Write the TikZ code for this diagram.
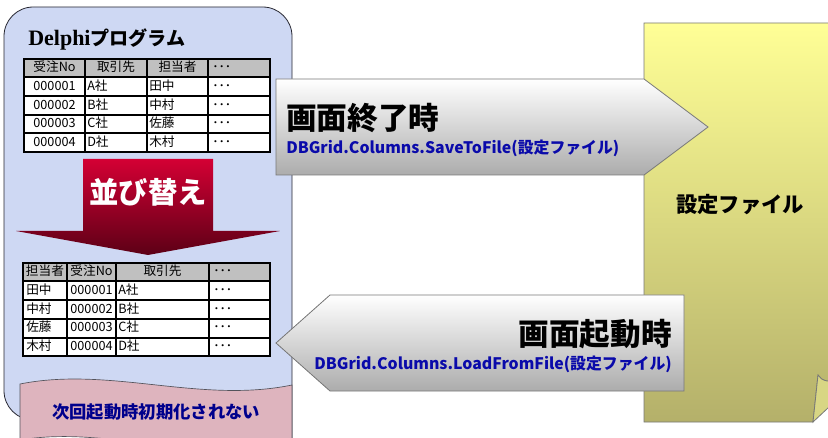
\documentclass[tikz,border=0pt]{standalone}
\usepackage{fontspec}
\setmainfont{Liberation Serif}
\newfontfamily\jp{Noto Sans CJK JP}
\definecolor{panelfill}{RGB}{206,216,243}
\definecolor{panelline}{RGB}{40,40,50}
\definecolor{bannerfill}{RGB}{222,180,190}
\definecolor{hdrgray}{RGB}{192,192,192}
\definecolor{redtop}{RGB}{212,0,52}
\definecolor{redbot}{RGB}{92,0,22}
\definecolor{graytop}{RGB}{255,255,255}
\definecolor{graybot}{RGB}{172,172,172}
\definecolor{grayline}{RGB}{120,120,120}
\definecolor{yeltop}{RGB}{255,255,150}
\definecolor{yelbot}{RGB}{180,176,106}
\definecolor{yelflap}{RGB}{216,214,132}
\definecolor{codeblue}{RGB}{10,10,170}
\definecolor{navy}{RGB}{0,0,140}
\tikzset{
  tbl/.style={black, line width=0.9pt},
  cell/.style={font=\jp\fontsize{9.5}{10}\selectfont, inner sep=0pt, anchor=base west},
  ccell/.style={font=\jp\fontsize{9.5}{10}\selectfont, inner sep=0pt, anchor=base},
  bigjp/.style={font=\jp\bfseries\fontsize{23}{24}\selectfont, inner sep=0pt},
  code/.style={font=\jp\bfseries\fontsize{11.9}{12}\selectfont, text=codeblue, inner sep=0pt},
  grayarrow/.style={draw=grayline, line width=0.6pt, top color=graytop, bottom color=graybot},
}
\begin{document}
\begin{tikzpicture}[x=0.75pt,y=-0.75pt]
\useasboundingbox (0,0) rectangle (828,438);
\clip (0,0) rectangle (828,438);
\fill[white] (0,0) rectangle (828,438);

% yellow settings file
\draw[grayline, line width=0.6pt, top color=yeltop, bottom color=yelbot]
  (644,23) -- (845,23) -- (845,380) -- (827,381) .. controls (822,380) and (820,378) .. (818,375) -- (813,422) -- (644,422) -- cycle;
\draw[grayline, line width=0.6pt, fill=yelflap] (818,375) -- (813,422) -- (845,392) -- (845,380) -- (827,381) .. controls (822,380) and (820,378) .. (818,375);
\node[font=\jp\bfseries\fontsize{16}{17}\selectfont] (file) at (740,205) {設定ファイル};

% left panel
\filldraw[fill=panelfill, draw=panelline, line width=0.6pt, rounded corners=22pt]
  (292,460) -- (292,7) -- (4,7) -- (4,420) -- (80,420);
% banner
\filldraw[fill=bannerfill, draw=panelline!80, line width=0.5pt]
  (20,384) .. controls (110,366) and (200,404) .. (292,385) -- (292,450)
  .. controls (200,465) and (110,425) .. (20,440) -- cycle;
\node[font=\jp\bfseries\fontsize{13}{14}\selectfont, text=navy] (note) at (156,412) {次回起動時初期化されない};

% title
\node[anchor=base west, inner sep=0pt] (title) at (28,46)
  {\bfseries\fontsize{16.5}{17}\selectfont Delphi{\jp\fontsize{14.3}{15}\selectfont プログラム}};

% table 1
\fill[hdrgray] (24,59) rectangle (270,77);
\fill[white] (24,77) rectangle (270,152);
\draw[tbl] (24,59) rectangle (270,152);
\foreach \y in {77,96,115,133} \draw[tbl] (24,\y) -- (270,\y);
\foreach \x in {85,147,208} \draw[tbl] (\x,59) -- (\x,152);
\node[ccell] (a1) at (54.5,72) {受注No};
\node[ccell] (a2) at (116,72) {取引先};
\node[ccell] (a3) at (177.5,72) {担当者};
\node[cell] (a4) at (212,72) {･･･};
\foreach \n/\c/\p [count=\i] in {000001/A社/田中,000002/B社/中村,000003/C社/佐藤,000004/D社/木村}{
  \pgfmathsetmacro{\yy}{72+18.6*\i}
  \node[ccell] (b\i1) at (54.5,\yy) {\n};
  \node[cell] (b\i2) at (87,\yy) {\c};
  \node[cell] (b\i3) at (149,\yy) {\p};
  \node[cell] (b\i4) at (212,\yy) {･･･};
}

% red arrow
\path[top color=redtop, bottom color=redbot]
  (83,159) -- (213,159) -- (213,231) -- (280,231) -- (148,255) -- (16,231) -- (83,231) -- cycle;
\node[font=\jp\bfseries\fontsize{22}{23}\selectfont, text=white] (sort) at (148,192) {並び替え};

% table 2
\fill[hdrgray] (23,263) rectangle (270,281);
\fill[white] (23,281) rectangle (270,356);
\draw[tbl] (23,263) rectangle (270,356);
\foreach \y in {281,300,319,338} \draw[tbl] (23,\y) -- (270,\y);
\foreach \x in {67,116,209} \draw[tbl] (\x,263) -- (\x,356);
\node[ccell] (c1) at (45,276) {担当者};
\node[ccell] (c2) at (91.5,276) {受注No};
\node[ccell] (c3) at (162.5,276) {取引先};
\node[cell] (c4) at (213,276) {･･･};
\foreach \n/\c/\p [count=\i] in {000001/A社/田中,000002/B社/中村,000003/C社/佐藤,000004/D社/木村}{
  \pgfmathsetmacro{\yy}{276+18.6*\i}
  \node[cell] (d\i1) at (26,\yy) {\p};
  \node[ccell] (d\i2) at (91.5,\yy) {\n};
  \node[cell] (d\i3) at (118,\yy) {\c};
  \node[cell] (d\i4) at (213,\yy) {･･･};
}

% top gray arrow (save)
\path[grayarrow] (276,79) -- (644,79) -- (708,127) -- (644,175) -- (276,175) -- cycle;
\node[bigjp, anchor=west] (save) at (286,118) {画面終了時};
\node[code, anchor=west] (savecode) at (286,148) {DBGrid.Columns.SaveToFile(設定ファイル)};

% bottom gray arrow (load)
\path[grayarrow] (276,343) -- (330,295) -- (684,295) -- (684,391) -- (330,391) -- cycle;
\node[bigjp, anchor=east] (load) at (672,334) {画面起動時};
\node[code, anchor=east] (loadcode) at (672,364) {DBGrid.Columns.LoadFromFile(設定ファイル)};
\end{tikzpicture}
\end{document}
